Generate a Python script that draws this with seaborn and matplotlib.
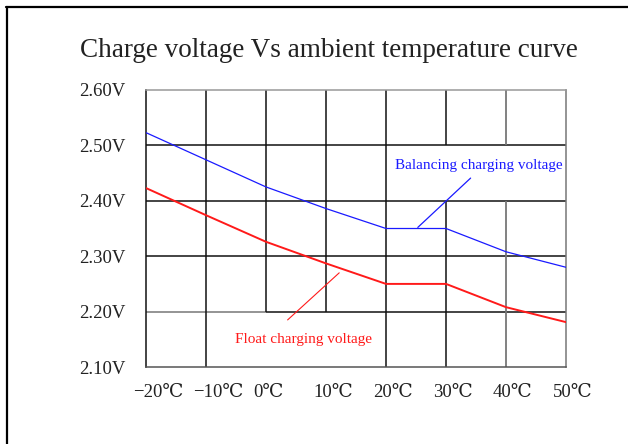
import numpy as np
import pandas as pd
import seaborn as sns
import matplotlib.pyplot as plt
from matplotlib.lines import Line2D
from matplotlib.transforms import ScaledTranslation

############################
# Data
############################
temps = [-20, -10, 0, 10, 20, 30, 40, 50]
balancing_v = [2.523, 2.474, 2.425, 2.386, 2.350, 2.350, 2.308, 2.280]
float_v = [2.423, 2.374, 2.326, 2.287, 2.250, 2.250, 2.208, 2.181]

volt_ticks = [2.10, 2.20, 2.30, 2.40, 2.50, 2.60]
volt_labels = ["2.10V", "2.20V", "2.30V", "2.40V", "2.50V", "2.60V"]
temp_labels = ["\u221220\u2103", "\u221210\u2103", "0\u2103", "10\u2103",
               "20\u2103", "30\u2103", "40\u2103", "50\u2103"]

title = "Charge voltage Vs ambient temperature curve"
balancing_label = "Balancing charging voltage"
float_label = "Float charging voltage"

df = pd.DataFrame({"temp": temps, "balancing": balancing_v, "float": float_v})

############################
# Plot
############################
sns.set_theme(style="white")
plt.rcParams["font.family"] = ["Liberation Serif", "DejaVu Serif", "DejaVu Sans"]

fig = plt.figure(figsize=(6.28, 4.44), dpi=100)
ax = fig.add_axes([0.2325, 0.1734, 0.6688, 0.6239])

ax.set_xlim(-20, 50)
ax.set_ylim(2.10, 2.60)

# grid drawn by hand: some cells are left open behind the labels
black = "#111111"
grey = "#777777"
ax.hlines([2.30, 2.40, 2.50], -20, 50, color=black, lw=1.1, zorder=1)
ax.hlines(2.20, -20, 0, color=grey, lw=1.1, zorder=1)
ax.hlines(2.20, 0, 50, color=black, lw=1.1, zorder=1)
ax.vlines([-10, 20], 2.10, 2.60, color=black, lw=1.1, zorder=1)
ax.vlines([0, 10], 2.20, 2.60, color=black, lw=1.1, zorder=1)
ax.vlines(30, 2.10, 2.40, color=black, lw=1.1, zorder=1)
ax.vlines(30, 2.50, 2.60, color=black, lw=1.1, zorder=1)
ax.vlines(40, 2.10, 2.40, color=grey, lw=1.3, zorder=1)
ax.vlines(40, 2.50, 2.60, color=grey, lw=1.3, zorder=1)

for side, col in [("left", black), ("bottom", "#555555"),
                  ("top", "#999999"), ("right", grey)]:
    ax.spines[side].set_visible(True)
    ax.spines[side].set_color(col)
    ax.spines[side].set_linewidth(1.1)

sns.lineplot(data=df, x="temp", y="balancing", color="#1a1aff", lw=0.9, ax=ax, zorder=3)
sns.lineplot(data=df, x="temp", y="float", color="#ff1a1a", lw=1.4, ax=ax, zorder=3)

ax.set_xlabel("")
ax.set_ylabel("")
ax.set_xticks(temps)
ax.set_xticklabels(temp_labels, fontsize=13.5, color="#222222", ha="left")
ax.set_yticks(volt_ticks)
ax.set_yticklabels(volt_labels, fontsize=13.5, color="#222222")
ax.tick_params(axis="both", length=0)
ax.tick_params(axis="y", pad=15)
ax.tick_params(axis="x", pad=12)
shift = ScaledTranslation(-13 / 100, 0, fig.dpi_scale_trans)
for lab in ax.get_xticklabels():
    lab.set_transform(lab.get_transform() + shift)

# labels with leader lines
ax.text(35.5, 2.463, balancing_label, color="#1a1aff", fontsize=11,
        ha="center", va="center")
ax.annotate("", xy=(25.3, 2.352), xytext=(34.1, 2.441),
            arrowprops=dict(arrowstyle="-", color="#1a1aff", lw=0.9,
                            shrinkA=0, shrinkB=0))
ax.text(6.2, 2.149, float_label, color="#ff1a1a", fontsize=11,
        ha="center", va="center")
ax.annotate("", xy=(3.6, 2.185), xytext=(12.2, 2.270),
            arrowprops=dict(arrowstyle="-", color="#ff1a1a", lw=0.8,
                            shrinkA=0, shrinkB=0))

fig.text(0.523, 0.887, title, fontsize=19.5, color="#222222",
         ha="center", va="center")

# frame of the original picture (top and left edges only)
fig.add_artist(Line2D([0.009, 1.0], [0.985, 0.985], transform=fig.transFigure,
                      color="black", lw=1.6))
fig.add_artist(Line2D([0.0108, 0.0108], [0.0, 0.985], transform=fig.transFigure,
                      color="black", lw=1.6))

fig.savefig("out.png", dpi=100)
